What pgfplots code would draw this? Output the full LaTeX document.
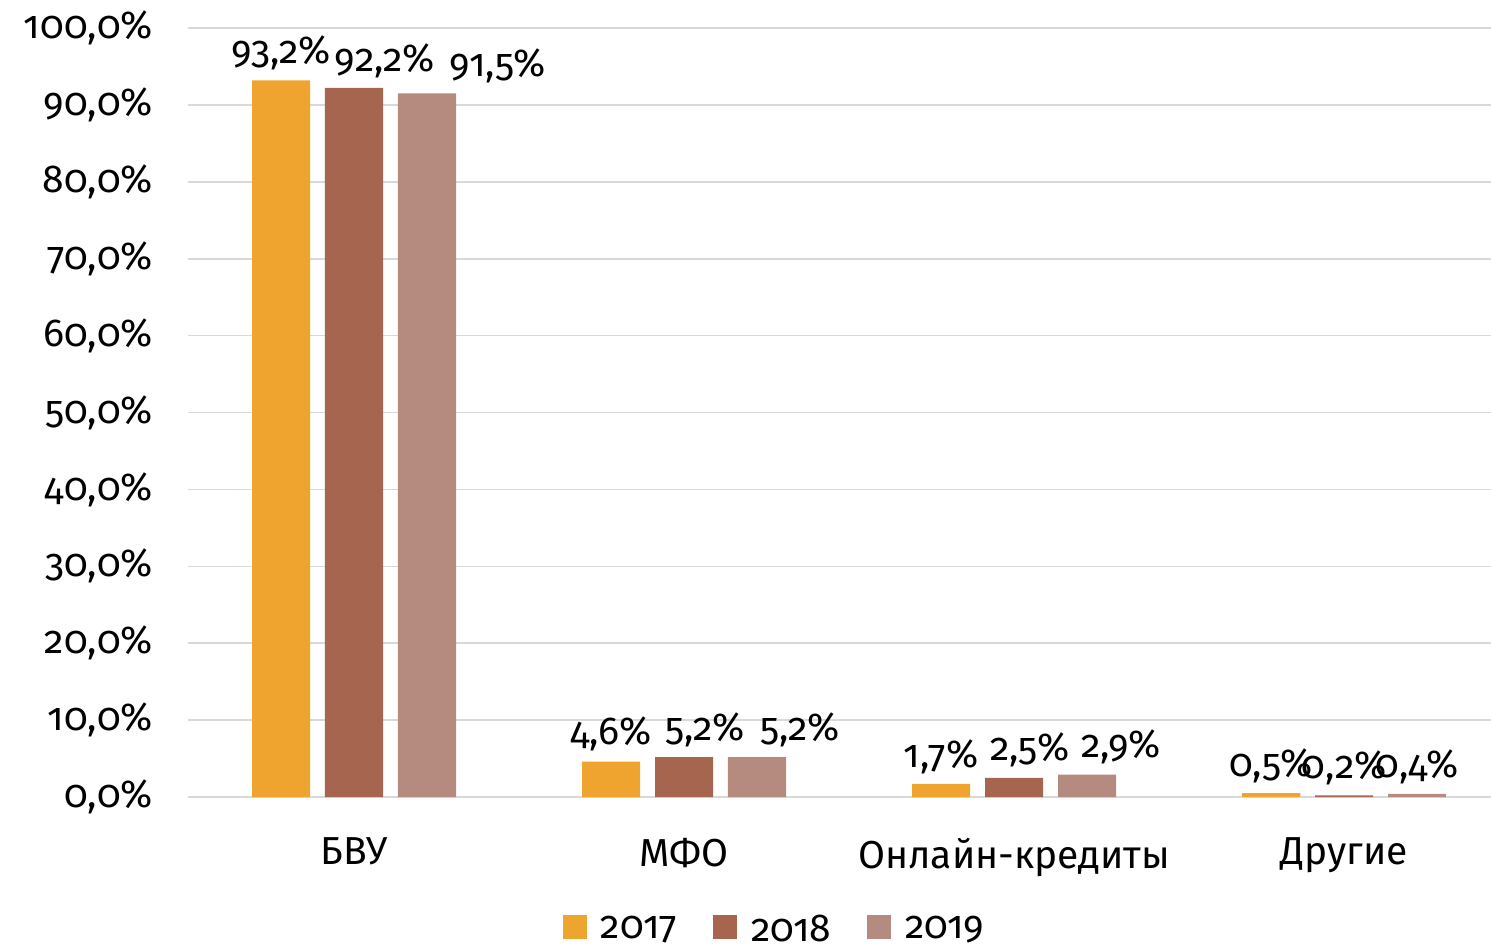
\documentclass[border=0pt]{standalone}
\usepackage{fontspec}
\setmainfont{Fira Sans}[Numbers=OldStyle]
\usepackage{pgfplots}
\usepackage{pgfplotstable}
\pgfplotsset{compat=1.18}
\definecolor{cA}{HTML}{F0A430}
\definecolor{cB}{HTML}{A5654E}
\definecolor{cC}{HTML}{B58B7F}
\definecolor{gridc}{HTML}{D9D9D9}
\pgfplotstableread{
x y lab
0 93.2 {93,2\%}
1 4.6 {4,6\%}
2 1.7 {1,7\%}
3 0.5 {0,5\%}
}\tA
\pgfplotstableread{
x y lab
0 92.2 {\hspace*{31pt}92,2\%}
1 5.2 {\hspace*{21pt}5,2\%}
2 2.5 {\hspace*{16pt}2,5\%}
3 0.2 {0,2\%}
}\tB
\pgfplotstableread{
x y lab
0 91.5 {\hspace*{71pt}91,5\%}
1 5.2 {\hspace*{43pt}5,2\%}
2 2.9 {\hspace*{34pt}2,9\%}
3 0.4 {0,4\%}
}\tC
\newcommand{\fs}{\fontsize{19.5}{22}\selectfont}
\begin{document}
\begin{tikzpicture}
\useasboundingbox (0pt,0pt) rectangle (745.5pt,474.5pt);
\begin{axis}[
  at={(94pt,76pt)}, anchor=south west,
  scale only axis, width=651.5pt, height=384.5pt,
  xmin=-0.503, xmax=3.445, ymin=0, ymax=100,
  ybar,
  axis line style={draw=none},
  major tick length=0pt,
  ymajorgrids, grid style={gridc, line width=0.8pt},
  ytick={0,10,...,100},
  yticklabels={{0,0\%},{10,0\%},{20,0\%},{30,0\%},{40,0\%},{50,0\%},{60,0\%},{70,0\%},{80,0\%},{90,0\%},{100,0\%}},
  yticklabel style={font=\fs, anchor=east, xshift=-14pt},
  xtick={0,1,2,3},
  xticklabels={БВУ,МФО,Онлайн-кредиты,Другие},
  xticklabel style={font=\fs, anchor=north, yshift=-17pt},
  bar width=0.176,
  point meta=explicit symbolic,
  nodes near coords,
  every node near coord/.append style={font=\fs, inner sep=2pt, yshift=3pt, text=black},
  legend columns=3,
  legend style={draw=none, at={(0.451,-0.172)}, anchor=center, font=\fs,
    /tikz/every odd column/.append style={column sep=5pt},
    /tikz/every even column/.append style={column sep=16pt}},
  legend image code/.code={\fill[#1] (0pt,-5pt) rectangle (12pt,7pt);},
]
\addplot[fill=cA, draw=none, bar shift=-0.221] table[x=x,y=y,meta=lab]{\tA};
\addplot[fill=cB, draw=none, bar shift=0] table[x=x,y=y,meta=lab]{\tB};
\addplot[fill=cC, draw=none, bar shift=0.221] table[x=x,y=y,meta=lab]{\tC};
\legend{2017,2018,2019}
\end{axis}
\end{tikzpicture}
\end{document}
